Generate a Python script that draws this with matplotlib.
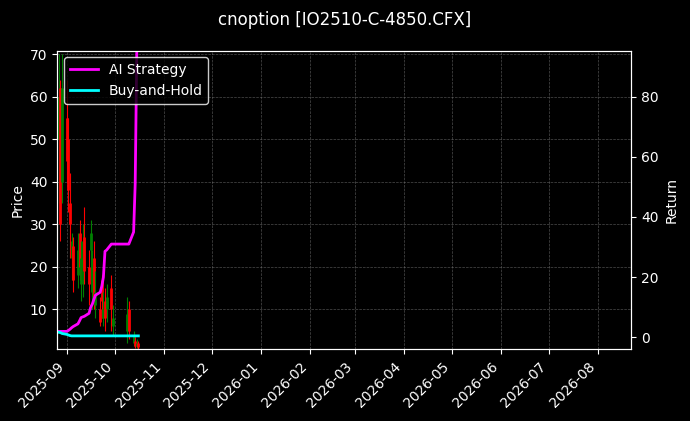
import pandas as pd
import matplotlib
matplotlib.use("Agg")
import matplotlib.pyplot as plt
import matplotlib.dates as mdates

plt.style.use("dark_background")

dates = pd.to_datetime([
    "2025-08-27", "2025-08-28", "2025-08-29", "2025-09-01", "2025-09-02", "2025-09-03",
    "2025-09-04", "2025-09-05", "2025-09-08", "2025-09-09", "2025-09-10", "2025-09-11",
    "2025-09-12", "2025-09-15", "2025-09-16", "2025-09-17", "2025-09-18", "2025-09-19",
    "2025-09-22", "2025-09-23", "2025-09-24", "2025-09-25", "2025-09-26", "2025-09-29",
    "2025-09-30", "2025-10-09", "2025-10-10", "2025-10-13", "2025-10-14", "2025-10-15",
    "2025-10-16",
])
opens = [50, 62, 40, 55, 50, 35, 22, 25, 18, 28, 16, 20, 27, 20, 24, 14, 22, 11, 10, 17,
         8, 12, 10, 15, 6, 5, 10, 2, 2.5, 1.5, 2]
closes = [60, 30, 62, 45, 38, 30, 26, 17, 24, 20, 22, 26, 19, 16, 28, 20, 13, 14, 7, 12,
          10, 8, 13, 10, 8, 9, 5, 4, 1.5, 2.2, 1.2]
highs = [70, 64, 70, 64, 55, 42, 28, 27, 28, 31, 26, 30, 34, 24, 31, 24, 26, 19, 13, 18,
         14, 15, 16, 18, 11, 13, 12, 5, 3.5, 3, 2.5]
lows = [35, 26, 35, 40, 33, 22, 17, 14, 15, 17, 12, 13, 16, 11, 17, 10, 10, 8, 6, 8,
        6, 5, 7, 5, 4, 2, 3, 1.5, 1, 1, 0.8]
strategy = [2.0, 2.0, 2.0, 2.0, 2.3, 2.7, 3.2, 3.6, 4.5, 5.5, 6.6, 6.8, 7.0, 8.0, 10.0,
            11.0, 12.6, 14.0, 15.0, 17.0, 20.0, 28.6, 29.0, 31.0, 31.0, 31.0, 31.0, 35.0,
            51.0, 95.0]
buyhold = [1.7, 1.6, 1.3, 1.0, 0.8, 0.6, 0.5, 0.5, 0.5, 0.5, 0.5, 0.5, 0.5, 0.5, 0.5,
           0.5, 0.5, 0.5, 0.5, 0.5, 0.5, 0.5, 0.5, 0.5, 0.5, 0.5, 0.5, 0.5, 0.5, 0.5, 0.5]

fig, ax = plt.subplots(figsize=(6.9, 4.21), dpi=100)
fig.patch.set_facecolor("black")
ax.set_facecolor("black")

for d, o, c, h, l in zip(dates, opens, closes, highs, lows):
    col = "green" if c >= o else "red"
    ax.vlines(d, l, h, color=col, linewidth=0.8)
    ax.vlines(d, min(o, c), max(o, c), color=col, linewidth=2)

ax.set_ylabel("Price")
ax.set_ylim(0.6, 70.9)
ax.set_xlim(pd.Timestamp("2025-08-26"), pd.Timestamp("2026-08-22"))
ax.grid(True, color="gray", linestyle="--", linewidth=0.5, alpha=0.6)
ax.xaxis.set_major_locator(mdates.MonthLocator())
ax.xaxis.set_major_formatter(mdates.DateFormatter("%Y-%m"))
plt.setp(ax.get_xticklabels(), rotation=45, ha="right")

ax2 = ax.twinx()
ax2.plot(dates[:len(strategy)], strategy, color="magenta", linewidth=2, label="AI Strategy")
ax2.plot(dates[:len(buyhold)], buyhold, color="cyan", linewidth=2, label="Buy-and-Hold")
ax2.set_ylim(-4, 95.3)
ax2.set_ylabel("Return")
ax2.legend(loc="upper left", facecolor="black", edgecolor="white")

fig.suptitle("cnoption [IO2510-C-4850.CFX]", fontsize=12, y=0.975)
fig.subplots_adjust(left=0.083, right=0.915, top=0.88, bottom=0.17)
fig.savefig("out.png", facecolor="black")
